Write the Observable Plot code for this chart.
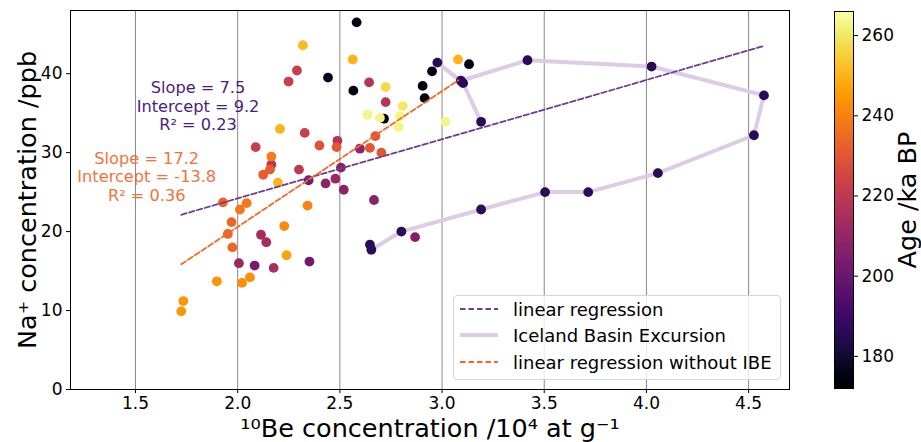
<!DOCTYPE html>
<html>
<head>
<meta charset="utf-8">
<script src="https://cdn.jsdelivr.net/npm/d3@7"></script>
<script src="https://cdn.jsdelivr.net/npm/@observablehq/plot@0.6"></script>
<style>
  body { margin: 0; background: #fff; font-family: "DejaVu Sans", sans-serif; }
  #wrap { position: relative; width: 921px; height: 442px; overflow: hidden; }
  #main { position: absolute; left: 0; top: 0; }
  #cbar { position: absolute; left: 800px; top: 0; }
  #legend {
    position: absolute; left: 453px; top: 295px; width: 326px; height: 83px;
    background: rgba(255,255,255,0.8); border: 1px solid #d6d6d6; border-radius: 4px;
    font-family: "DejaVu Sans", sans-serif; font-size: 18px; color: #000;
  }
  .row { position: absolute; left: 0; height: 22px; display: flex; align-items: center; white-space: nowrap; }
  .row svg { margin-left: 6px; margin-right: 15px; }
</style>
</head>
<body>
<div id="wrap">
  <div id="main"></div>
  <div id="cbar"></div>
  <div id="legend">
    <div class="row" style="top:2px"><svg width="38" height="6"><line x1="0" y1="3" x2="38" y2="3" stroke="#6c3d94" stroke-width="1.8" stroke-dasharray="5.5,3"/></svg><span>linear regression</span></div>
    <div class="row" style="top:28px"><svg width="38" height="6"><line x1="0" y1="3" x2="38" y2="3" stroke="#dccde4" stroke-width="4"/></svg><span>Iceland Basin Excursion</span></div>
    <div class="row" style="top:55px"><svg width="38" height="6"><line x1="0" y1="3" x2="38" y2="3" stroke="#f36a25" stroke-width="1.8" stroke-dasharray="5.5,3"/></svg><span>linear regression without IBE</span></div>
  </div>
</div>
<script>
// ---- Data ----
// samples outside the Iceland Basin Excursion
const be10 = [2.319,2.290,2.249,2.207,2.328,2.088,2.400,2.488,2.484,2.598,2.647,2.674,2.703,2.165,2.165,2.125,2.158,2.300,2.197,2.347,2.430,2.478,2.505,2.519,2.667,2.044,2.342,1.928,2.011,1.970,1.952,1.974,2.228,2.114,2.140,2.239,2.006,2.083,2.176,2.351,1.898,2.021,2.060,1.734,1.724,2.582,2.442,2.563,2.566,2.643,2.724,2.724,2.808,2.635,2.696,2.716,2.794,2.788,2.951,2.905,2.915,3.078,3.132,3.017,2.868];
const naConc = [43.6,40.4,39.0,33.0,32.5,30.7,30.9,31.5,30.7,30.5,30.6,32.1,30.0,29.5,28.5,27.2,27.85,27.85,26.2,26.5,26.1,26.7,28.1,25.3,24.0,23.6,23.3,23.7,22.8,21.2,19.7,18.0,20.7,19.6,18.65,17.0,16.0,15.7,15.4,16.2,13.7,13.5,14.2,11.2,9.9,46.5,39.5,41.8,37.85,38.9,38.3,36.4,35.9,34.8,34.4,34.3,34.6,33.25,40.3,38.45,36.9,41.8,41.2,33.9,19.3];
const ageKa = [251,222,222,250,222,222,229,217,230,208,230,230,230,239,218,232,232,220,250,202,208,211,207,208,207,238,241,233,238,234,234,234,242,214,214,247,211,203,215,202,244,243,243,244,244,175,177,250,175,218,257,218,260,263,263,174,263,263,175,175,174,250,175,263,206];
// Iceland Basin Excursion samples, in path order
const ibeBe10 = [2.647,2.654,2.801,3.191,3.504,3.715,4.056,4.526,4.575,4.025,3.418,3.092,2.977,3.103,3.191];
const ibeNa   = [18.35,17.7,20.0,22.8,25.0,25.0,27.4,32.2,37.25,40.9,41.7,39.1,41.4,38.8,33.9];
const ibeAge  = [186,186,186,186,186,186,186,186,186,186,186,186,186,186,186];
// regressions
const regAll   = {slope: 7.5,  intercept: 9.2,   xMin: 1.724, xMax: 4.575, r2: 0.23};
const regNoIBE = {slope: 17.2, intercept: -13.8, xMin: 1.724, xMax: 3.08,  r2: 0.36};
// annotation anchors (data coordinates)
const annotX = [1.806, 1.555];
const annotY = [35.95, 26.96];
// ticks
const xTicks = [1.5, 2.0, 2.5, 3.0, 3.5, 4.0, 4.5];
const yTicks = [0, 10, 20, 30, 40];
const ageTicks = [180, 200, 220, 240, 260];
const xDomain = [1.182, 4.70];
const yDomain = [0, 48];
const ageDomain = [172, 266];

// ---- build tables ----
const others = be10.map((x, i) => ({x, y: naConc[i], age: ageKa[i]}));
const ibe = ibeBe10.map((x, i) => ({x, y: ibeNa[i], age: ibeAge[i]}));
const allPts = others.concat(ibe).sort((a, b) => a.age - b.age);
const lineOf = r => [r.xMin, r.xMax].map(x => ({x, y: r.slope * x + r.intercept}));
const annots = [
  {x: annotX[0], y: annotY[0], color: "#4b1d7f",
   text: `Slope = ${regAll.slope}\nIntercept = ${regAll.intercept}\nR² = ${regAll.r2}`},
  {x: annotX[1], y: annotY[1], color: "#f0743a",
   text: `Slope = ${regNoIBE.slope}\nIntercept = ${regNoIBE.intercept}\nR² = ${regNoIBE.r2}`}
];
const colorOpts = {type: "linear", scheme: "inferno", domain: ageDomain};
const FONT = "DejaVu Sans";
const TICK_FS = 17;
const LABEL_FS = 25.5;

const main = Plot.plot({
  width: 800, height: 442,
  marginLeft: 70, marginRight: 11, marginTop: 10, marginBottom: 53,
  style: {fontFamily: FONT, fontSize: "16px", color: "#000", background: "transparent", overflow: "visible"},
  x: {domain: xDomain},
  y: {domain: yDomain},
  color: colorOpts,
  marks: [
    Plot.gridX(xTicks, {stroke: "#8a8a8a", strokeOpacity: 1, strokeWidth: 1}),
    Plot.line(ibe, {x: "x", y: "y", stroke: "#dccde4", strokeWidth: 4}),
    Plot.dot(allPts, {x: "x", y: "y", fill: "age", r: 4.9}),
    Plot.line(lineOf(regAll), {x: "x", y: "y", stroke: "#6c3d94", strokeWidth: 1.8, strokeDasharray: "5.5,2.6"}),
    Plot.line(lineOf(regNoIBE), {x: "x", y: "y", stroke: "#f36a25", strokeWidth: 1.8, strokeDasharray: "5.5,2.6"}),
    Plot.text(annots, {x: "x", y: "y", text: "text", fill: "color", fontSize: 16.2, lineHeight: 1.13, lineAnchor: "middle", textAnchor: "middle"}),
    Plot.axisX({ticks: xTicks, tickFormat: d3.format(".1f"), tickSize: 4, tickPadding: 3, label: null, fontSize: TICK_FS}),
    Plot.axisY({ticks: yTicks, tickSize: 4, tickPadding: 4, label: null, fontSize: TICK_FS}),
    Plot.text(["¹⁰Be concentration /10⁴ at g⁻¹"], {text: d => d, frameAnchor: "bottom", dy: 39.5, fontSize: LABEL_FS, lineAnchor: "middle", textAnchor: "middle"}),
    Plot.text(["Na⁺ concentration /ppb"], {text: d => d, frameAnchor: "left", dx: -43, rotate: -90, fontSize: LABEL_FS, lineAnchor: "middle", textAnchor: "middle"}),
    Plot.frame({stroke: "#000", strokeWidth: 1})
  ]
});
document.getElementById("main").append(main);

const cbar = Plot.plot({
  width: 121, height: 442,
  marginLeft: 34, marginRight: 68, marginTop: 11, marginBottom: 54,
  style: {fontFamily: FONT, fontSize: "16px", color: "#000", background: "transparent", overflow: "visible"},
  x: {domain: [0, 1], axis: null},
  y: {domain: ageDomain},
  color: colorOpts,
  marks: [
    Plot.raster({x1: 0, x2: 1, y1: ageDomain[0], y2: ageDomain[1], width: 1, height: 300, fill: (x, y) => y, imageRendering: "auto"}),
    Plot.frame({stroke: "#000", strokeWidth: 1}),
    Plot.axisY({anchor: "right", ticks: ageTicks, tickSize: 4, tickPadding: 4, label: null, fontSize: TICK_FS}),
    Plot.text(["Age /ka BP"], {text: d => d, frameAnchor: "right", dx: 54, rotate: -90, fontSize: LABEL_FS, lineAnchor: "middle", textAnchor: "middle"})
  ]
});
document.getElementById("cbar").append(cbar);
</script>
</body>
</html>
